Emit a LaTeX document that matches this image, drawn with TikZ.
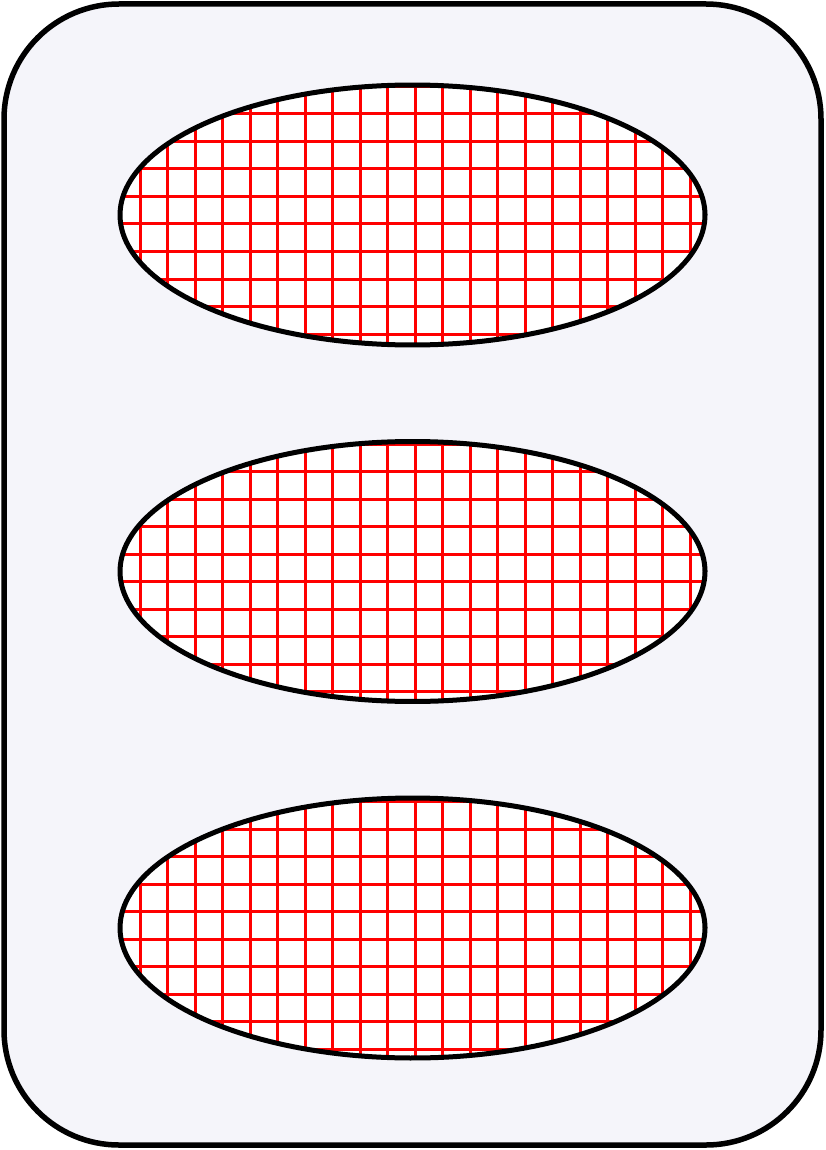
\documentclass[tikz,border=0pt]{standalone}
\usepackage{tikz}
\usetikzlibrary{calc}

\definecolor{fundo}{RGB}{245,245,250}

\begin{document}
\begin{tikzpicture}[x=1pt, y=-1pt]
    \useasboundingbox (0, 0) rectangle (825, 1150);

    % a caixa externa
    \draw[black, line width=5.5pt, fill=fundo, rounded corners=115pt] (4, 4) rectangle (821, 1145);

    % as tres elipses com grade vermelha
    \foreach \yc in {215, 571.5, 928} {
        \begin{scope}
            \clip plot[domain=0:360, variable=\t, samples=200] (
            {412.5 + 292.5*cos(\t)},
            {\yc + 130*sin(\t)});
            \fill[white] (100, \yc-140) rectangle (720, \yc+140);
            \foreach \i in {4,...,26}
                \draw[red, line width=3pt] (27.5*\i+2.5, \yc-140) -- (27.5*\i+2.5, \yc+140);
            \foreach \j in {0,...,42}
                \draw[red, line width=3pt] (100, 27.5*\j+4) -- (720, 27.5*\j+4);
        \end{scope}
        \draw[domain=0:360, variable=\t, samples=200, black, line width=5pt] plot (
        {412.5 + 292.5*cos(\t)},
        {\yc + 130*sin(\t)}) -- cycle;
    }

\end{tikzpicture}
\end{document}
